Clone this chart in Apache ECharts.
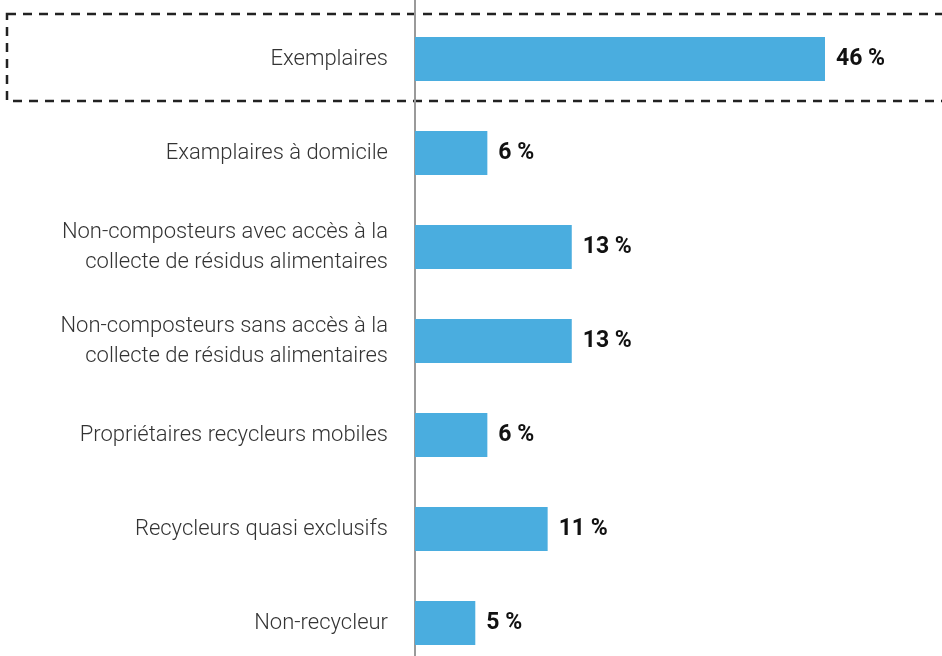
<!DOCTYPE html>
<html><head><meta charset="utf-8">
<script src="https://cdn.jsdelivr.net/npm/echarts@6/dist/echarts.min.js"></script>
<style>html,body{margin:0;padding:0;background:#fff;overflow:hidden}#c{width:942px;height:670px}</style>
</head><body><div id="c"></div>
<script>
const categories = [
  "Exemplaires",
  "Examplaires à domicile",
  "Non-composteurs avec accès à la\ncollecte de résidus alimentaires",
  "Non-composteurs sans accès à la\ncollecte de résidus alimentaires",
  "Propriétaires recycleurs mobiles",
  "Recycleurs quasi exclusifs",
  "Non-recycleur"
];
const values = [46, 6, 13, 13, 6, 11, 5];
const xMax = 34;

const chart = echarts.init(document.getElementById('c'), null, {renderer: 'canvas'});
chart.setOption({
  animation: false,
  backgroundColor: '#fff',
  grid: {left: 415, width: 410, top: 12, bottom: 0, containLabel: false},
  xAxis: {type: 'value', min: 0, max: xMax, show: false},
  yAxis: {
    type: 'category', data: categories, inverse: true,
    axisLine: {show: true, lineStyle: {color: '#9a9a9a', width: 2}},
    axisTick: {show: false},
    axisLabel: {margin: 27, color: '#333', fontFamily: 'Roboto', fontWeight: 300, fontSize: 22, lineHeight: 30, align: 'right'}
  },
  series: [{
    type: 'bar', data: values, barCategoryGap: '53%', clip: true,
    itemStyle: {color: '#4aaddf'},
    label: {show: true, position: 'right', distance: 11, formatter: p => p.value + ' %',
      color: '#111', fontFamily: 'Roboto', fontWeight: 'bold', fontSize: 23}
  }],
  graphic: [
    {type: 'rect', silent: true, shape: {x: 7, y: 14, width: 980, height: 87},
     style: {fill: 'none', stroke: '#222', lineWidth: 2.5, lineDash: [9, 7]}},
    {type: 'line', silent: true, shape: {x1: 415, y1: 0, x2: 415, y2: 13},
     style: {stroke: '#9a9a9a', lineWidth: 2}}
  ]
});
</script></body></html>
